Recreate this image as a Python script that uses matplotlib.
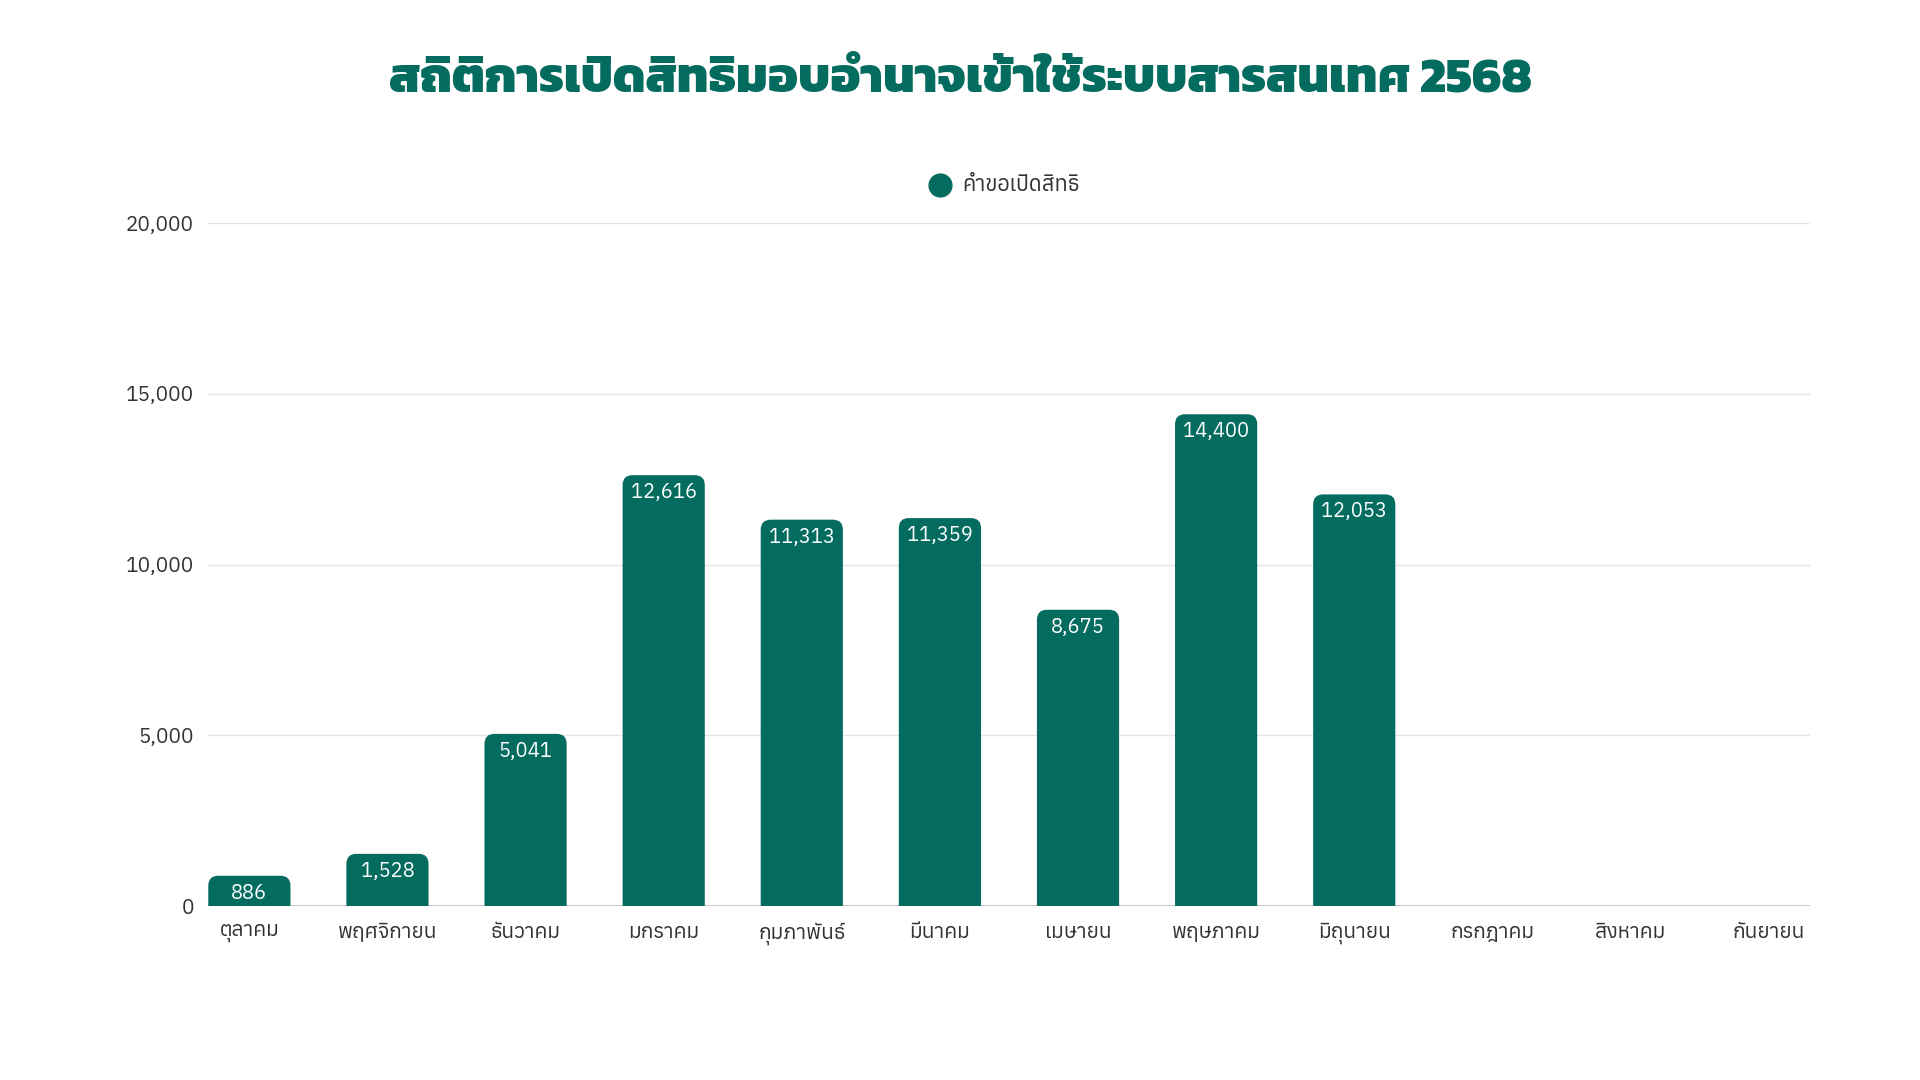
import matplotlib
matplotlib.use('Agg')
import matplotlib.pyplot as plt
from matplotlib.path import Path
from matplotlib.patches import PathPatch
from matplotlib.ticker import FuncFormatter

# data
months = ['ตุลาคม', 'พฤศจิกายน', 'ธันวาคม', 'มกราคม', 'กุมภาพันธ์', 'มีนาคม',
          'เมษายน', 'พฤษภาคม', 'มิถุนายน', 'กรกฎาคม', 'สิงหาคม', 'กันยายน']
requests = [886, 1528, 5041, 12616, 11313, 11359, 8675, 14400, 12053]
series_name = 'คำขอเปิดสิทธิ'
title = 'สถิติการเปิดสิทธิมอบอำนาจเข้าใช้ระบบสารสนเทศ 2568'
yticks = [0, 5000, 10000, 15000, 20000]

teal = '#036C5F'
txt = '#333333'
fam = ['Anuphan', 'DejaVu Sans']
title_fam = ['Kanit', 'DejaVu Sans']

fig = plt.figure(figsize=(19.2, 10.8), dpi=100)
ax = fig.add_axes([0.1083, 0.1611, 0.8344, 0.6324])

xs = list(range(len(months)))
ax.set_xlim(-0.3, len(months) - 1 + 0.3)
ax.set_ylim(0, 20000)

bars = ax.bar(xs[:len(requests)], requests, width=0.595, color=teal)

# rounded top corners (about 10 px)
fig.canvas.draw()
bb = ax.get_window_extent()
rx = 10 * (ax.get_xlim()[1] - ax.get_xlim()[0]) / bb.width
ry = 10 * (ax.get_ylim()[1] - ax.get_ylim()[0]) / bb.height
for b in bars:
    x0 = b.get_x()
    x1 = x0 + b.get_width()
    h = b.get_height()
    verts = [(x0, 0), (x0, h - ry), (x0, h), (x0 + rx, h), (x1 - rx, h),
             (x1, h), (x1, h - ry), (x1, 0), (x0, 0)]
    codes = [Path.MOVETO, Path.LINETO, Path.CURVE3, Path.CURVE3, Path.LINETO,
             Path.CURVE3, Path.CURVE3, Path.LINETO, Path.CLOSEPOLY]
    ax.add_patch(PathPatch(Path(verts, codes), facecolor=teal, edgecolor='none', zorder=3))
    b.set_visible(False)
    ax.annotate('{:,}'.format(h), (x0 + b.get_width() / 2, h), xytext=(0, -12.5),
                textcoords='offset points', ha='center', va='center',
                color='white', fontsize=14.5, family=fam, zorder=4)

# grid and axes
ax.set_yticks(yticks)
ax.yaxis.set_major_formatter(FuncFormatter(lambda v, p: '{:,}'.format(int(v))))
ax.grid(axis='y', color='#e4e4e4', linewidth=1, zorder=0)
ax.axhline(0, color='#c4c4c4', linewidth=1.2, zorder=2)
for s in ax.spines.values():
    s.set_visible(False)
ax.tick_params(axis='both', length=0, colors=txt, labelsize=15)
ax.tick_params(axis='y', pad=10)
ax.tick_params(axis='x', pad=12)
ax.set_xticks(xs)
ax.set_xticklabels(months)
for lab in ax.get_xticklabels() + ax.get_yticklabels():
    lab.set_family(fam)

# legend, roughly centred over the plot area
ax.scatter([], [], s=270, color=teal, label=series_name)
leg = ax.legend(loc='center', bbox_to_anchor=(0.494, 1 + 38 / 683), frameon=False,
                handletextpad=0.05, prop={'family': fam, 'size': 15.5})
for t in leg.get_texts():
    t.set_color(txt)

fig.text(0.5, 1 - 80 / 1080, title, ha='center', va='center', color=teal,
         fontsize=35.5, fontweight='heavy', family=title_fam)

fig.savefig('out.png', dpi=100)
